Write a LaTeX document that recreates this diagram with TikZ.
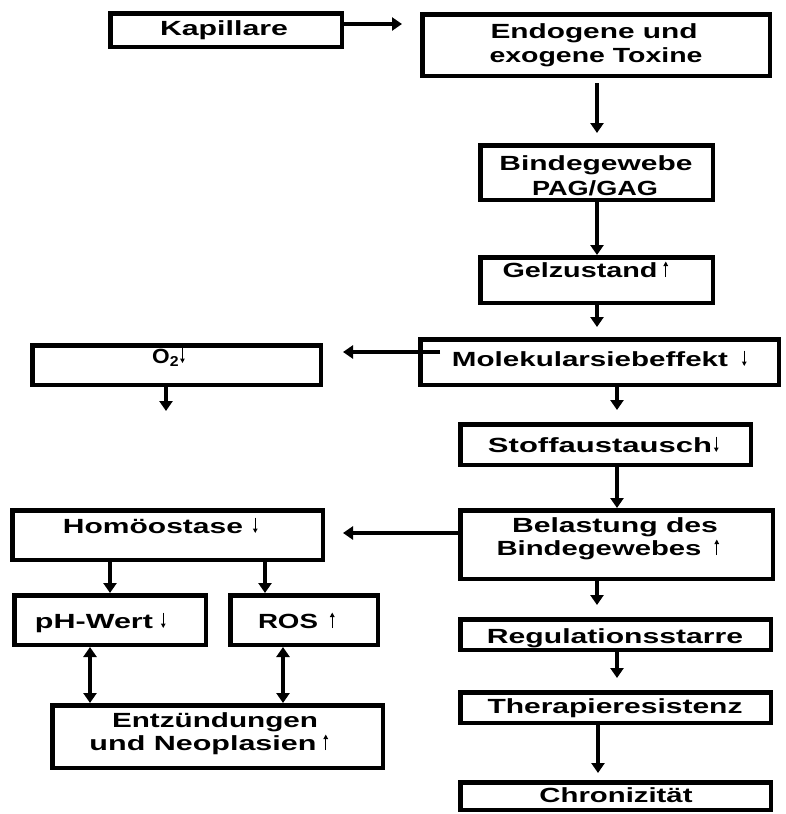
\documentclass[tikz,border=0pt]{standalone}
\usepackage{fontspec}
\setmainfont{Liberation Sans}
\usepackage{graphicx}
\usetikzlibrary{arrows.meta,calc}
\newcommand\stxt[2]{\resizebox{#1pt}{\height}{#2}}
\newcommand\uparr{\tikz[baseline=0pt]\draw[line width=1.4pt,-{Triangle[length=4.5pt,width=4.5pt]}] (0pt,0pt) -- (0pt,15.5pt);}
\newcommand\dnarr{\tikz[baseline=0pt]\draw[line width=1.4pt,-{Triangle[length=4.5pt,width=4.5pt]}] (0pt,15.5pt) -- (0pt,0pt);}
\newcommand\mkbox[5]{\node[box, minimum width={#4-#2-4.5}, minimum height={#5-#3-4.5}] (#1) at ({(#2+#4)/2},{(#3+#5)/2}) {};}
\tikzset{
  box/.style={draw, line width=4.5pt, inner sep=0pt, fill=white},
  txt/.style={inner sep=0pt, font=\fontsize{20.5}{24}\selectfont\bfseries},
  arr/.style={line width=3.8pt, -{Triangle[length=10pt,width=13pt]}},
  darr/.style={line width=3.8pt, {Triangle[length=10pt,width=13pt]}-{Triangle[length=10pt,width=13pt]}}
}
\begin{document}
\begin{tikzpicture}[x=1pt,y=-1pt]
\useasboundingbox (0,0) rectangle (785,814);
% boxes (outer edges)
\mkbox{kap}{108}{11}{344}{49}
\mkbox{endo}{420}{12}{772}{78}
\mkbox{binde}{478}{143}{715}{202}
\mkbox{gel}{478}{255}{715}{305}
\mkbox{mol}{418}{337}{781}{387}
\mkbox{otwo}{30}{343}{323}{387}
\mkbox{stoff}{458}{422}{753}{467}
\mkbox{bel}{458}{508}{775}{581}
\mkbox{homo}{10}{508}{325}{562}
\mkbox{ph}{12}{593}{208}{647}
\mkbox{ros}{228}{593}{380}{647}
\mkbox{entz}{50}{703}{385}{770}
\mkbox{reg}{458}{617}{773}{652}
\mkbox{ther}{458}{690}{773}{725}
\mkbox{chron}{458}{780}{773}{812}
% texts
\node[txt, anchor=base] (tkap) at (224,35) {\stxt{128}{Kapillare}};
\node[txt, anchor=base] (tendoA) at (594,38) {\stxt{207}{Endogene und}};
\node[txt, anchor=base] (tendoB) at (596,62) {\stxt{213}{exogene Toxine}};
\node[txt, anchor=base] (tbindeA) at (596,170) {\stxt{193}{Bindegewebe}};
\node[txt, anchor=base] (tbindeB) at (595,195) {\stxt{126}{PAG/GAG}};
\node[txt, anchor=base] (tgel) at (580,277) {\stxt{155}{Gelzustand}\rlap{\hspace{6pt}\uparr}};
\node[txt, anchor=base] (tmol) at (590,366) {\stxt{276}{Molekularsiebeffekt}\rlap{\hspace{14pt}\dnarr}};
\node[txt, anchor=base west] (totwo) at (152,363) {\stxt{27}{O\textsubscript{2}}\hspace{1pt}\dnarr};
\node[txt, anchor=base] (tstoff) at (600,452) {\stxt{224}{Stoffaustausch}\rlap{\hspace{2pt}\dnarr}};
\node[txt, anchor=base] (tbelA) at (615,532) {\stxt{206}{Belastung des}};
\node[txt, anchor=base] (tbelB) at (599,555) {\stxt{205}{Bindegewebes}\rlap{\hspace{13pt}\uparr}};
\node[txt, anchor=base] (thomo) at (153,533) {\stxt{180}{Homöostase}\rlap{\hspace{10pt}\dnarr}};
\node[txt, anchor=base] (tph) at (94,628) {\stxt{118}{pH-Wert}\rlap{\hspace{8pt}\dnarr}};
\node[txt, anchor=base] (tros) at (288,628) {\stxt{60}{ROS}\rlap{\hspace{12pt}\uparr}};
\node[txt, anchor=base] (tentzA) at (215,727) {\stxt{206}{Entzündungen}};
\node[txt, anchor=base] (tentzB) at (203,750) {\stxt{227}{und Neoplasien}\rlap{\hspace{7pt}\uparr}};
\node[txt, anchor=base] (treg) at (615,643) {\stxt{256}{Regulationsstarre}};
\node[txt, anchor=base] (tther) at (615,713) {\stxt{255}{Therapieresistenz}};
\node[txt, anchor=base] (tchron) at (616,802) {\stxt{153}{Chronizität}};
% helper coordinates
\coordinate (c597) at (597,0);
\coordinate (c617) at (617,0);
\coordinate (c598) at (598,0);
\coordinate (c166) at (166,0);
\coordinate (c110) at (110,0);
\coordinate (c265) at (265,0);
\coordinate (c90) at (90,0);
\coordinate (c283) at (283,0);
\coordinate (r24) at (0,24);
\coordinate (r352) at (0,352);
\coordinate (r533) at (0,533);
\coordinate (otwoend) at (166,411);
% connectors
\draw[arr, shorten >=18pt] (kap.east |- r24) -- (endo.west |- r24);
\draw[arr, shorten <=5pt, shorten >=10pt] (endo.south -| c597) -- (binde.north -| c597);
\draw[arr] (binde.south -| c597) -- (gel.north -| c597);
\draw[arr, shorten >=10pt] (gel.south -| c597) -- (mol.north -| c597);
\draw[arr, shorten >=20pt] ($(mol.west |- r352)+(22,0)$) -- (otwo.east |- r352);
\draw[arr] (otwo.south -| c166) -- (otwoend);
\draw[arr, shorten >=12pt] (mol.south -| c617) -- (stoff.north -| c617);
\draw[arr] (stoff.south -| c617) -- (bel.north -| c617);
\draw[arr, shorten >=18pt] (bel.west |- r533) -- (homo.east |- r533);
\draw[arr] (homo.south -| c110) -- (ph.north -| c110);
\draw[arr] (homo.south -| c265) -- (ros.north -| c265);
\draw[darr] (ph.south -| c90) -- (entz.north -| c90);
\draw[darr] (ros.south -| c283) -- (entz.north -| c283);
\draw[arr, shorten >=12pt] (bel.south -| c597) -- (reg.north -| c597);
\draw[arr, shorten >=12pt] (reg.south -| c617) -- (ther.north -| c617);
\draw[arr, shorten >=7pt] (ther.south -| c598) -- (chron.north -| c598);
\end{tikzpicture}
\end{document}
